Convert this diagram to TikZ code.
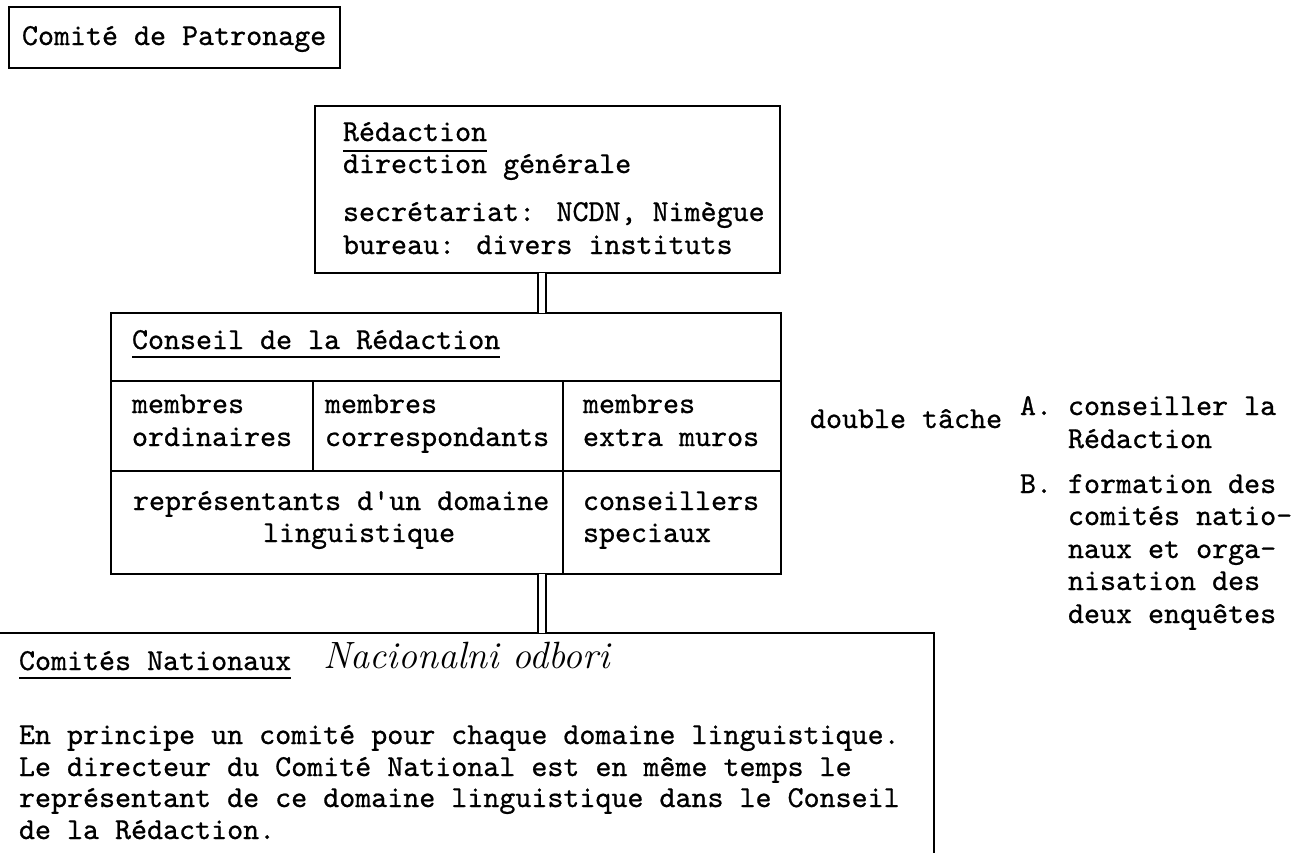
\documentclass[tikz,border=0pt]{standalone}
\usepackage{fontspec}
\newfontfamily\twfont{lmmono10-regular.otf}[FakeBold=0.7]
\begin{document}
\begin{tikzpicture}[x=1pt,y=-1pt,
  every node/.style={inner sep=0pt, outer sep=0pt},
  tw/.style={font=\twfont\fontsize{30.5}{33}\selectfont},
  txt/.style={tw, anchor=base west},
  box/.style={draw, line width=2pt, anchor=north west},
  rule/.style={line width=2pt},
  uline/.style={line width=1.6pt},
  dbl/.style={double, double distance=6pt, line width=2pt},
  hand/.style={font=\rmfamily\itshape\fontsize{38}{38}\selectfont, anchor=base west}]
\useasboundingbox[fill=white] (0,0) rectangle (1299,852);
\clip (0,0) rectangle (1299,852);

% Comite de Patronage
\node[box, minimum width=331, minimum height=61] (pat) at (9,7) {};
\node[txt] (patt) at (22,45) {Comité de Patronage};

% Redaction
\node[box, minimum width=465, minimum height=167] (red) at (315,106) {};
\node[txt] (r1) at (343,141) {Rédaction};
\draw[uline] ([yshift=-10pt]r1.base west) -- ([yshift=-10pt]r1.base east);
\node[txt] (r2) at (343,173) {direction générale};
\node[txt] (r3) at (343,221) {secrétariat: NCDN, Nimègue};
\node[txt] (r4) at (343,254) {bureau: divers instituts};

% Conseil de la Redaction
\node[box, minimum width=670, minimum height=261] (cons) at (111,313) {};
\node[txt] (c0) at (132,349) {Conseil de la Rédaction};
\draw[uline] ([yshift=-8pt]c0.base west) -- ([yshift=-8pt]c0.base east);
\coordinate (h1) at (111,381);
\coordinate (h2) at (111,471);
\coordinate (v1) at (313,381);
\coordinate (v2) at (563,381);
\draw[rule] (h1) -- (h1 -| cons.east);
\draw[rule] (h2) -- (h2 -| cons.east);
\draw[rule] (v1) -- (v1 |- h2);
\draw[rule] (v2) -- (v2 |- cons.south);

\node[txt] (m1a) at (132,413) {membres};
\node[txt] (m1b) at (132,446) {ordinaires};
\node[txt] (m2a) at (325,413) {membres};
\node[txt] (m2b) at (325,446) {correspondants};
\node[txt] (m3a) at (583,413) {membres};
\node[txt] (m3b) at (583,446) {extra muros};
\node[txt] (rpa) at (133,510) {représentants d'un domaine};
\node[txt] (rpb) at (263,542) {linguistique};
\node[txt] (csa) at (583,510) {conseillers};
\node[txt] (csb) at (583,542) {speciaux};

% double tache
\node[txt] (dt) at (810,428) {double tâche};
\node[txt] (ta) at (1020,415) {A.};
\node[txt] (ta1) at (1068,415) {conseiller la};
\node[txt] (ta2) at (1068,448) {Rédaction};
\node[txt] (tb) at (1020,493) {B.};
\node[txt] (tb1) at (1068,493) {formation des};
\node[txt] (tb2) at (1068,525) {comités natio-};
\node[txt] (tb3) at (1068,558) {naux et orga-};
\node[txt] (tb4) at (1068,590) {nisation des};
\node[txt] (tb5) at (1068,623) {deux enquêtes};

% Comites Nationaux
\node[box, minimum width=954, minimum height=280] (cn) at (-20,633) {};
\node[txt] (cnt) at (19,670) {Comités Nationaux};
\draw[uline] ([yshift=-8pt]cnt.base west) -- ([yshift=-8pt]cnt.base east);
\node[hand] (hw) at (323,668) {Nacionalni odbori};
\node[txt] (b1) at (19,744) {En principe un comité pour chaque domaine linguistique.};
\node[txt] (b2) at (19,776) {Le directeur du Comité National est en même temps le};
\node[txt] (b3) at (19,807) {représentant de ce domaine linguistique dans le Conseil};
\node[txt] (b4) at (19,839) {de la Rédaction.};

% connectors
\coordinate (cx) at ([xshift=-6pt]red.south);
\draw[dbl] (red.south -| cx) -- (cx |- cons.north);
\draw[dbl] (cx |- cons.south) -- (cx |- cn.north);
\end{tikzpicture}
\end{document}
